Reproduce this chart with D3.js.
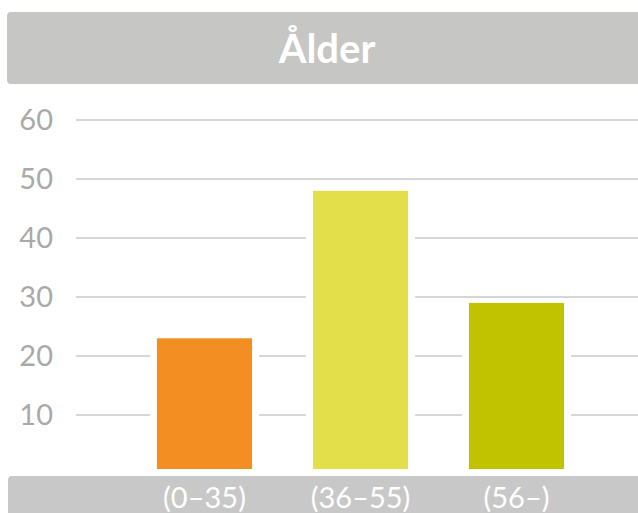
<!DOCTYPE html>
<html>
<head>
<meta charset="utf-8">
<script src="https://cdn.jsdelivr.net/npm/d3@7"></script>
<style>
  body { margin: 0; background: #fff; }
  svg { display: block; }
</style>
</head>
<body>
<svg width="638" height="513"></svg>
<script>
// data
var categories = ["(0\u201335)", "(36\u201355)", "(56\u2013)"];
var values = [23, 48, 29];
var colors = ["#f28e22", "#e3df4a", "#c2c300"];
var yTicks = [10, 20, 30, 40, 50, 60];
var title = "\u00c5lder";

var svg = d3.select("svg");
var W = 638, H = 513;

var x = d3.scaleBand()
    .domain(categories)
    .range([126.5, 594.5])
    .paddingInner(0.39)
    .paddingOuter(0.195);

var y = d3.scaleLinear()
    .domain([0, 60])
    .range([474, 120]);

// title band
svg.append("rect")
    .attr("x", 7).attr("y", 12)
    .attr("width", W).attr("height", 72)
    .attr("rx", 4)
    .attr("fill", "#c6c6c4");
svg.append("text")
    .attr("x", 327).attr("y", 63)
    .attr("text-anchor", "middle")
    .attr("font-family", "Lato, sans-serif")
    .attr("font-weight", "bold")
    .style("font-size", "40px")
    .attr("fill", "#fff")
    .text(title);

// gridlines
svg.append("g").selectAll("line")
    .data(yTicks)
    .enter().append("line")
    .attr("x1", 76).attr("x2", W)
    .attr("y1", function(d) { return y(d); })
    .attr("y2", function(d) { return y(d); })
    .attr("stroke", "#c8c8c8")
    .attr("stroke-width", 1.6);

// tick labels
svg.append("g").selectAll("text")
    .data(yTicks)
    .enter().append("text")
    .attr("x", 53)
    .attr("y", function(d) { return y(d); })
    .attr("dy", "0.36em")
    .attr("text-anchor", "end")
    .attr("font-family", "Lato, sans-serif")
    .style("font-size", "29px")
    .attr("fill", "#a9a9a9")
    .text(function(d) { return d; });

// white gaps around the bars, then the bars
var bars = svg.append("g");
bars.selectAll("rect.gap")
    .data(values)
    .enter().append("rect")
    .attr("class", "gap")
    .attr("x", function(d, i) { return x(categories[i]) - 7; })
    .attr("width", x.bandwidth() + 14)
    .attr("y", function(d) { return y(d); })
    .attr("height", function(d) { return y(0) - 5 - y(d); })
    .attr("fill", "#fff");
bars.selectAll("rect.bar")
    .data(values)
    .enter().append("rect")
    .attr("class", "bar")
    .attr("x", function(d, i) { return x(categories[i]); })
    .attr("width", x.bandwidth())
    .attr("y", function(d) { return y(d); })
    .attr("height", function(d) { return y(0) - 5 - y(d); })
    .attr("fill", function(d, i) { return colors[i]; });

// bottom category band
svg.append("rect")
    .attr("x", 8).attr("y", 476)
    .attr("width", W).attr("height", 60)
    .attr("rx", 4)
    .attr("fill", "#c8c8c8");
svg.append("g").selectAll("text")
    .data(categories)
    .enter().append("text")
    .attr("x", function(d) { return x(d) + x.bandwidth() / 2; })
    .attr("y", 508)
    .attr("text-anchor", "middle")
    .attr("font-family", "Lato, sans-serif")
    .style("font-size", "29px")
    .attr("fill", "#fff")
    .text(function(d) { return d; });
</script>
</body>
</html>
